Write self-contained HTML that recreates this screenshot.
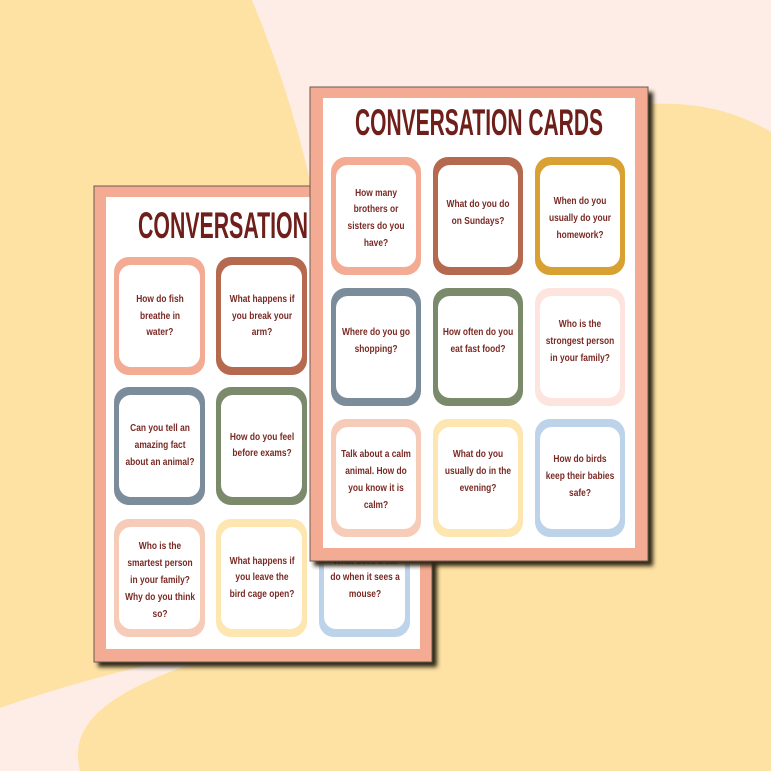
<!DOCTYPE html>
<html><head><meta charset="utf-8"><style>
html,body{margin:0;padding:0;background:#fdede6}
svg{display:block}
.t{font-family:"Liberation Sans Narrow","Liberation Sans",sans-serif;font-size:10.5px;font-weight:bold;fill:#7a2a24;text-anchor:middle;transform-box:fill-box;transform-origin:center;transform:scaleX(0.8)}
.h{font-family:"Liberation Sans Narrow","Liberation Sans",sans-serif;font-weight:bold;font-size:37px;fill:#6e1f1a}
</style></head><body>
<svg width="771" height="771" viewBox="0 0 771 771" xmlns="http://www.w3.org/2000/svg">
<defs>
<filter id="sh" x="-10%" y="-10%" width="125%" height="125%"><feGaussianBlur stdDeviation="2"/></filter>
</defs>
<rect width="771" height="771" fill="#fdede6"/>
<path d="M0,0 L252,0 C285,80 305,150 318,220 L600,110 C680,95 730,108 771,132 L771,771 L80,771 C70,730 95,700 180,668 C215,655 245,645 262,640 C160,660 70,683 0,708 Z" fill="#fee2a3"/>

<!-- back page -->
<rect x="98" y="191" width="339" height="476" fill="#2e2618" filter="url(#sh)"/>
<rect x="94" y="186" width="338" height="476" fill="#f4ab93" stroke="#6a5a50" stroke-width="1"/>
<rect x="106" y="197" width="314" height="452" fill="#fff"/>
<text class="h" x="138" y="238" textLength="170" lengthAdjust="spacingAndGlyphs">CONVERSATION</text>
<g>
<rect x="114" y="257" width="91" height="118" rx="15" fill="#f4ab93"/><rect x="119" y="265" width="81" height="102" rx="12" fill="#fff"/>
<rect x="216" y="257" width="91" height="118" rx="15" fill="#b5694f"/><rect x="221" y="265" width="81" height="102" rx="12" fill="#fff"/>
<rect x="114" y="387" width="91" height="118" rx="15" fill="#7b8c9b"/><rect x="119" y="395" width="81" height="102" rx="12" fill="#fff"/>
<rect x="216" y="387" width="91" height="118" rx="15" fill="#7a8a6a"/><rect x="221" y="395" width="81" height="102" rx="12" fill="#fff"/>
<rect x="114" y="519" width="91" height="118" rx="15" fill="#f6cbb8"/><rect x="119" y="527" width="81" height="102" rx="12" fill="#fff"/>
<rect x="216" y="519" width="91" height="118" rx="15" fill="#fde6b0"/><rect x="221" y="527" width="81" height="102" rx="12" fill="#fff"/>
<rect x="319" y="519" width="91" height="118" rx="15" fill="#bcd3ea"/><rect x="324" y="527" width="81" height="102" rx="12" fill="#fff"/>
</g>
<text class="t" x="160" y="302">How do fish</text><text class="t" x="160" y="319">breathe in</text><text class="t" x="160" y="335">water?</text>
<text class="t" x="262" y="302">What happens if</text><text class="t" x="262" y="319">you break your</text><text class="t" x="262" y="335">arm?</text>
<text class="t" x="160" y="431">Can you tell an</text><text class="t" x="160" y="448">amazing fact</text><text class="t" x="160" y="465">about an animal?</text>
<text class="t" x="262" y="440">How do you feel</text><text class="t" x="262" y="456">before exams?</text>
<text class="t" x="160" y="549">Who is the</text><text class="t" x="160" y="566">smartest person</text><text class="t" x="160" y="583">in your family?</text><text class="t" x="160" y="600">Why do you think</text><text class="t" x="160" y="617">so?</text>
<text class="t" x="262" y="564">What happens if</text><text class="t" x="262" y="580">you leave the</text><text class="t" x="262" y="597">bird cage open?</text>
<text class="t" x="365" y="564">What does a cat</text><text class="t" x="365" y="580">do when it sees a</text><text class="t" x="365" y="597">mouse?</text>

<!-- front page -->
<rect x="314" y="92" width="339" height="474" fill="#2e2618" filter="url(#sh)"/>
<rect x="310" y="87" width="338" height="474" fill="#f4ab93" stroke="#6a5a50" stroke-width="1"/>
<rect x="323" y="98" width="312" height="450" fill="#fff"/>
<text class="h" x="355" y="135" textLength="248" lengthAdjust="spacingAndGlyphs">CONVERSATION CARDS</text>
<g>
<rect x="331" y="157" width="90" height="118" rx="15" fill="#f4ab93"/><rect x="336" y="165" width="80" height="102" rx="12" fill="#fff"/>
<rect x="433" y="157" width="90" height="118" rx="15" fill="#b5694f"/><rect x="438" y="165" width="80" height="102" rx="12" fill="#fff"/>
<rect x="535" y="157" width="90" height="118" rx="15" fill="#d9a032"/><rect x="540" y="165" width="80" height="102" rx="12" fill="#fff"/>
<rect x="331" y="288" width="90" height="118" rx="15" fill="#7b8c9b"/><rect x="336" y="296" width="80" height="102" rx="12" fill="#fff"/>
<rect x="433" y="288" width="90" height="118" rx="15" fill="#7a8a6a"/><rect x="438" y="296" width="80" height="102" rx="12" fill="#fff"/>
<rect x="535" y="288" width="90" height="118" rx="15" fill="#fde4de"/><rect x="540" y="296" width="80" height="102" rx="12" fill="#fff"/>
<rect x="331" y="419" width="90" height="118" rx="15" fill="#f6cbb8"/><rect x="336" y="427" width="80" height="102" rx="12" fill="#fff"/>
<rect x="433" y="419" width="90" height="118" rx="15" fill="#fde6b0"/><rect x="438" y="427" width="80" height="102" rx="12" fill="#fff"/>
<rect x="535" y="419" width="90" height="118" rx="15" fill="#bcd3ea"/><rect x="540" y="427" width="80" height="102" rx="12" fill="#fff"/>
</g>
<text class="t" x="376" y="196">How many</text><text class="t" x="376" y="212">brothers or</text><text class="t" x="376" y="229">sisters do you</text><text class="t" x="376" y="246">have?</text>
<text class="t" x="478" y="207">What do you do</text><text class="t" x="478" y="224">on Sundays?</text>
<text class="t" x="580" y="204">When do you</text><text class="t" x="580" y="221">usually do your</text><text class="t" x="580" y="238">homework?</text>
<text class="t" x="376" y="335">Where do you go</text><text class="t" x="376" y="352">shopping?</text>
<text class="t" x="478" y="335">How often do you</text><text class="t" x="478" y="352">eat fast food?</text>
<text class="t" x="580" y="327">Who is the</text><text class="t" x="580" y="344">strongest person</text><text class="t" x="580" y="361">in your family?</text>
<text class="t" x="376" y="457">Talk about a calm</text><text class="t" x="376" y="474">animal. How do</text><text class="t" x="376" y="491">you know it is</text><text class="t" x="376" y="508">calm?</text>
<text class="t" x="478" y="457">What do you</text><text class="t" x="478" y="474">usually do in the</text><text class="t" x="478" y="491">evening?</text>
<text class="t" x="580" y="462">How do birds</text><text class="t" x="580" y="479">keep their babies</text><text class="t" x="580" y="496">safe?</text>
</svg>
</body></html>
